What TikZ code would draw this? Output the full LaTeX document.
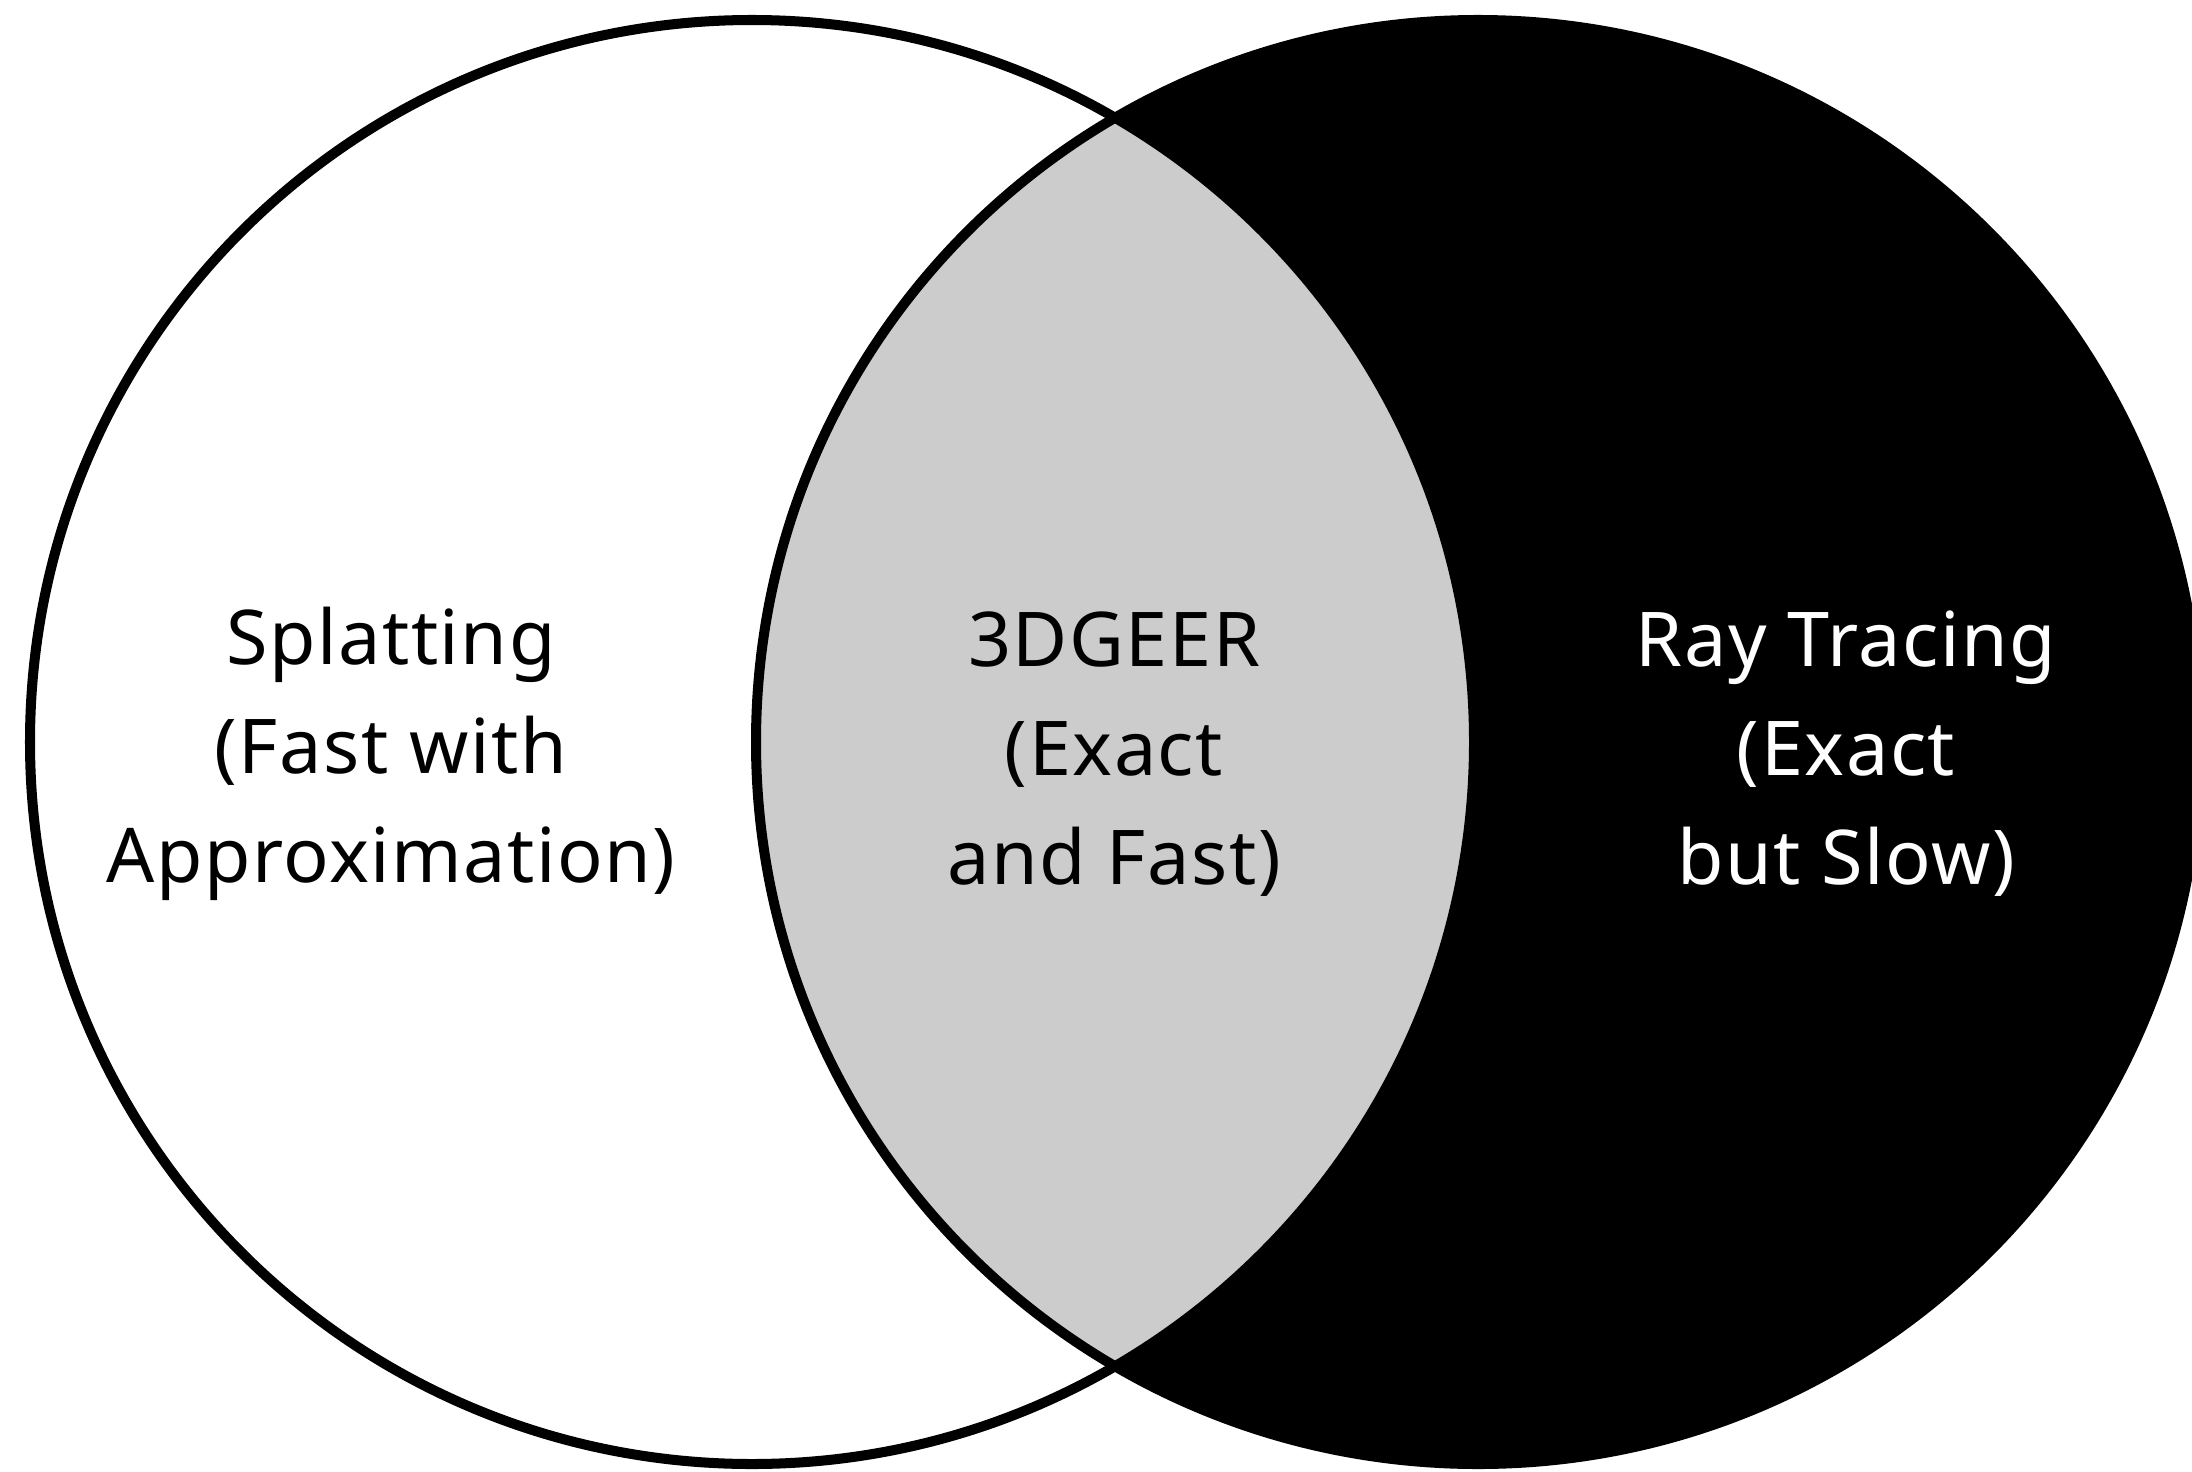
\documentclass[tikz,border=0pt]{standalone}
\usepackage{fontspec}
\setmainfont{Noto Sans}[LetterSpace=2]
\usepackage{tikz}
\usetikzlibrary{backgrounds}
\pgfdeclarelayer{edgelayer}
\pgfdeclarelayer{nodelayer}
\pgfsetlayers{edgelayer,main,nodelayer}
\definecolor{lensgray}{HTML}{CCCCCC}
\tikzstyle{none}=[inner sep=0pt]
\tikzstyle{setline}=[draw=black,line width=2.85pt]
\tikzstyle{setlabel}=[align=center,inner sep=0pt,font=\fontsize{21.5}{31}\selectfont]
\begin{document}
\begin{tikzpicture}
	\useasboundingbox (0,0) rectangle (21.92,14.71);
	\coordinate (L) at (7.52, 7.29);
	\coordinate (R) at (14.78, 7.29);
	\begin{pgfonlayer}{edgelayer}
		\fill [black] (R) circle (7.22);
		\begin{scope}
			\clip (L) circle (7.22);
			\fill [lensgray] (R) circle (7.22);
		\end{scope}
		\draw [style=setline] (L) circle (7.22);
		\draw [style=setline] (R) circle (7.22);
	\end{pgfonlayer}
	\begin{pgfonlayer}{nodelayer}
		\node [style=setlabel] (splat) at (3.91, 7.17) {Splatting\\(Fast with\\Approximation)};
		\node [style=setlabel] (geer) at (11.14, 7.17) {3DGEER\\(Exact\\and Fast)};
		\node [style=setlabel, text=white] (ray) at (18.46, 7.17) {Ray Tracing\\(Exact\\but Slow)};
	\end{pgfonlayer}
\end{tikzpicture}
\end{document}
